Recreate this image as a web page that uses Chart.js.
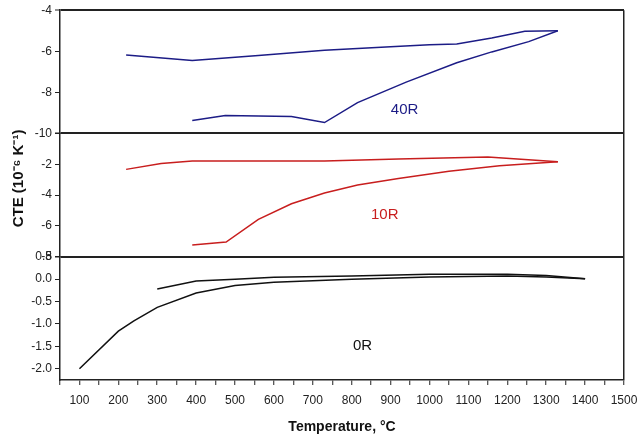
<!DOCTYPE html>
<html>
<head>
<meta charset="utf-8">
<script src="https://cdn.jsdelivr.net/npm/chart.js@4/dist/chart.umd.min.js"></script>
<style>
  html, body { margin: 0; padding: 0; background: #fff; }
  #wrap { width: 640px; height: 436px; }
</style>
</head>
<body>
<div id="wrap"><canvas id="cteChart"></canvas></div>
<script>
// 40R sample
const temp40Heat = [390, 475, 645, 730, 815, 940, 1070, 1160, 1255, 1330];
const cte40Heat  = [-9.37, -9.13, -9.18, -9.47, -8.5, -7.5, -6.56, -6.03, -5.53, -5.0];
const temp40Cool = [1330, 1245, 1160, 1070, 1000, 900, 730, 560, 390, 220];
const cte40Cool  = [-5.0, -5.03, -5.35, -5.64, -5.68, -5.78, -5.95, -6.2, -6.45, -6.18];

// 10R sample
const temp10Heat = [390, 477, 560, 645, 730, 815, 920, 1050, 1180, 1330];
const cte10Heat  = [-7.24, -7.05, -5.58, -4.56, -3.87, -3.35, -2.92, -2.45, -2.1, -1.84];
const temp10Cool = [1330, 1150, 920, 730, 390, 310, 220];
const cte10Cool  = [-1.84, -1.52, -1.65, -1.79, -1.78, -1.95, -2.33];

// 0R sample
const temp0Heat = [100, 200, 240, 300, 400, 500, 600, 800, 1000, 1200, 1300, 1400];
const cte0Heat  = [-2.0, -1.16, -0.93, -0.63, -0.31, -0.14, -0.07, 0.0, 0.05, 0.07, 0.05, 0.01];
const temp0Cool = [1400, 1300, 1200, 1000, 800, 600, 500, 400, 300];
const cte0Cool  = [0.01, 0.08, 0.11, 0.11, 0.07, 0.04, 0.0, -0.04, -0.22];

// y ticks of each panel
const ticksTop = [-10, -8, -6, -4];
const ticksMid = [-8, -6, -4, -2, 0];
const ticksBot = [-2.0, -1.5, -1.0, -0.5, 0.0, 0.5];

const blue = '#1c1c86';
const red = '#c81e1e';
const black = '#111111';
const frame = '#222222';

Chart.defaults.font.family = "'Liberation Sans', Arial, sans-serif";
Chart.defaults.color = '#222';

function pts(xs, ys) {
  return xs.map((x, i) => ({ x: x, y: ys[i] }));
}

function line(xs, ys, color, axis) {
  return {
    data: pts(xs, ys),
    yAxisID: axis,
    borderColor: color,
    borderWidth: 1.5,
    pointRadius: 0,
    tension: 0,
    fill: false
  };
}

// separator line drawn at the top tick of every panel
function panelGrid(top) {
  return {
    drawOnChartArea: true,
    drawTicks: true,
    tickLength: 5,
    tickColor: frame,
    tickWidth: 1,
    lineWidth: ctx => (ctx.tick && ctx.tick.value === top ? 2 : 1),
    color: ctx => (ctx.tick && ctx.tick.value === top ? frame : 'rgba(0,0,0,0)')
  };
}

function panelAxis(min, max, ticks, fmt) {
  return {
    type: 'linear',
    position: 'left',
    stack: 'panels',
    stackWeight: 1,
    offset: false,
    min: min,
    max: max,
    afterBuildTicks: s => { s.ticks = ticks.map(v => ({ value: v })); },
    afterFit: s => { s.width = 60; },
    ticks: { font: { size: 12 }, padding: 3, autoSkip: false, callback: fmt },
    grid: panelGrid(max),
    border: { color: frame, width: 1.5 }
  };
}

const seriesLabels = [
  { text: '40R', x: 936, y: -8.85, axis: 'yTop', color: blue },
  { text: '10R', x: 885, y: -5.27, axis: 'yMid', color: red },
  { text: '0R', x: 828, y: -1.49, axis: 'yBot', color: black }
];

const labelPlugin = {
  id: 'seriesLabels',
  afterDatasetsDraw(chart) {
    const c = chart.ctx;
    c.save();
    c.font = "15px 'Liberation Sans', Arial, sans-serif";
    c.textAlign = 'center';
    c.textBaseline = 'middle';
    seriesLabels.forEach(l => {
      c.fillStyle = l.color;
      c.fillText(l.text, chart.scales.x.getPixelForValue(l.x), chart.scales[l.axis].getPixelForValue(l.y));
    });
    c.restore();
  }
};

const midAxis = panelAxis(-8, 0, ticksMid, v => (v === 0 ? '' : v));
// leading spaces lift the rotated title a little, as in the original figure
midAxis.title = {
  display: true,
  text: '\u00A0'.repeat(8) + 'CTE (10\u207B\u2076 K\u207B\u00B9)',
  font: { size: 15, weight: 'bold' },
  color: '#111',
  padding: { top: 10, bottom: 0 }
};

new Chart(document.getElementById('cteChart'), {
  type: 'line',
  data: {
    datasets: [
      line(temp40Heat, cte40Heat, blue, 'yTop'),
      line(temp40Cool, cte40Cool, blue, 'yTop'),
      line(temp10Heat, cte10Heat, red, 'yMid'),
      line(temp10Cool, cte10Cool, red, 'yMid'),
      line(temp0Heat, cte0Heat, black, 'yBot'),
      line(temp0Cool, cte0Cool, black, 'yBot')
    ]
  },
  options: {
    responsive: true,
    maintainAspectRatio: false,
    animation: false,
    layout: { padding: { top: 6, right: 16, left: 0, bottom: 0 } },
    plugins: { legend: { display: false }, tooltip: { enabled: false } },
    scales: {
      x: {
        type: 'linear',
        min: 50,
        max: 1500,
        afterFit: s => { s.height = 56; s.paddingRight = 0; },
        ticks: {
          stepSize: 50,
          maxTicksLimit: 100,
          autoSkip: false,
          maxRotation: 0,
          padding: 8,
          font: { size: 12 },
          callback: v => (v % 100 === 0 ? String(v) : '')
        },
        grid: {
          drawOnChartArea: true,
          tickLength: 5,
          tickColor: frame,
          tickWidth: 1,
          lineWidth: 1.5,
          color: ctx => (ctx.tick && ctx.tick.value === 1500 ? frame : 'rgba(0,0,0,0)')
        },
        border: { color: frame, width: 1.5 },
        title: {
          display: true,
          text: 'Temperature, \u00B0C',
          font: { size: 14, weight: 'bold' },
          color: '#111',
          padding: { top: 0, bottom: 0 }
        }
      },
      // stacked axes are placed bottom-up in the order they are listed
      yBot: panelAxis(-2.25, 0.5, ticksBot, v => v.toFixed(1)),
      yMid: midAxis,
      yTop: panelAxis(-10, -4, ticksTop, v => v)
    }
  },
  plugins: [labelPlugin]
});
</script>
</body>
</html>
